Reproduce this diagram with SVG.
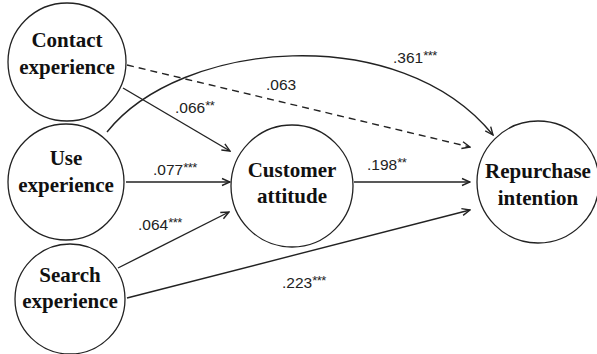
<svg xmlns="http://www.w3.org/2000/svg" width="597" height="354" viewBox="0 0 597 354">
  <defs>
    <marker id="arrow" markerWidth="10" markerHeight="10" refX="9" refY="5" orient="auto" markerUnits="userSpaceOnUse">
      <path d="M1,1.5 L9,5 L1,8.5" fill="none" stroke="#222" stroke-width="1.4"/>
    </marker>
    <style>
      .node circle { fill: #fff; stroke: #222; stroke-width: 1.3; }
      .node text { font-family: 'Liberation Serif', 'DejaVu Serif', serif; font-weight: bold; font-size: 21px; fill: #111; text-anchor: middle; }
      .edge { fill: none; stroke: #222; stroke-width: 1.4; marker-end: url(#arrow); }
      .dashed { stroke-dasharray: 7 5; }
      .lbl { font-family: 'Liberation Sans', Arial, sans-serif; font-size: 15.5px; fill: #222; }
      .sig { font-size: 13px; letter-spacing: -0.5px; }
    </style>
  </defs>

  <g id="connectors">
    <path class="edge" d="M107,132 C180,40 400,20 493,135"/>
    <path class="edge dashed" d="M127,65 L470,147"/>
    <path class="edge" d="M123,88 L230,151"/>
    <path class="edge" d="M126,182 L230,182"/>
    <path class="edge" d="M118,268 L229,212"/>
    <path class="edge" d="M127,298 L470,210"/>
    <path class="edge" d="M354,182 L470,182"/>
  </g>

  <g id="labels">
    <text class="lbl" x="393" y="63">.361<tspan class="sig" dy="-3">***</tspan></text>
    <text class="lbl" x="266" y="90">.063</text>
    <text class="lbl" x="175" y="113">.066<tspan class="sig" dy="-3">**</tspan></text>
    <text class="lbl" x="153" y="175">.077<tspan class="sig" dy="-3">***</tspan></text>
    <text class="lbl" x="367" y="170">.198<tspan class="sig" dy="-3">**</tspan></text>
    <text class="lbl" x="138" y="230">.064<tspan class="sig" dy="-3">***</tspan></text>
    <text class="lbl" x="282" y="288">.223<tspan class="sig" dy="-3">***</tspan></text>
  </g>

  <g id="contact" class="node" font-family="Liberation Serif, serif">
    <circle cx="67" cy="62" r="59"/>
    <text x="67" y="47">Contact</text>
    <text x="67" y="74">experience</text>
  </g>
  <g id="use" class="node" font-family="Liberation Serif, serif">
    <circle cx="66" cy="182" r="58"/>
    <text x="66" y="165">Use</text>
    <text x="66" y="192">experience</text>
  </g>
  <g id="search" class="node" font-family="Liberation Serif, serif">
    <circle cx="70" cy="299" r="55"/>
    <text x="70" y="282">Search</text>
    <text x="70" y="308">experience</text>
  </g>
  <g id="customer" class="node" font-family="Liberation Serif, serif">
    <circle cx="292" cy="186" r="61"/>
    <text x="292" y="177">Customer</text>
    <text x="292" y="203">attitude</text>
  </g>
  <g id="repurchase" class="node" font-family="Liberation Serif, serif">
    <circle cx="538" cy="182" r="61"/>
    <text x="538" y="178">Repurchase</text>
    <text x="538" y="205">intention</text>
  </g>
</svg>
